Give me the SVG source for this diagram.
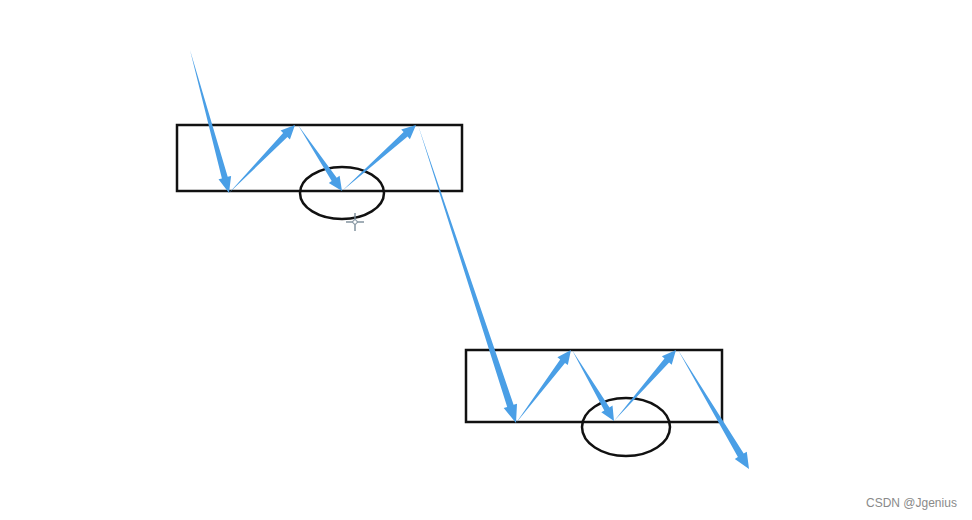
<svg xmlns="http://www.w3.org/2000/svg" width="972" height="520" viewBox="0 0 972 520">
  <style>
    .box { fill: none; stroke: #111; stroke-width: 2.5; }
    .ring { fill: none; stroke: #111; stroke-width: 2.5; }
    .arrow { fill: #4a9fe6; stroke: none; }
    .mark { font-family: "Liberation Sans", Arial, sans-serif; font-size: 12px; fill: #8a8a8a; }
    .cursor { stroke: #7a8c99; stroke-width: 1.4; fill: none; }
  </style>
  <rect width="972" height="520" fill="#ffffff"/>
  <g id="box-top">
    <rect class="box" x="177" y="125" width="285" height="66"/>
  </g>
  <g id="box-bottom">
    <rect class="box" x="466" y="350" width="256" height="72"/>
  </g>
  <g id="ring-top">
    <ellipse class="ring" cx="342" cy="193" rx="42" ry="26"/>
  </g>
  <g id="ring-bottom">
    <ellipse class="ring" cx="626" cy="427" rx="44" ry="29"/>
  </g>
  <g id="connectors">
    <polygon class="arrow" points="190,50 221.9,178.4 218.5,179.3 229,193 231.1,175.9 227.7,176.8"/>
    <polygon class="arrow" points="229,193 287.4,137.1 289.9,139.6 295,125 280.6,130.5 283.1,133.0"/>
    <polygon class="arrow" points="298,125 331.7,181.0 328.8,183.0 342,191 339.6,175.7 336.7,177.7"/>
    <polygon class="arrow" points="342,191 407.6,136.6 409.9,139.2 416,125 401.2,129.5 403.6,132.1"/>
    <polygon class="arrow" points="418,125 507.2,407.0 503.7,408.1 516,423 517.0,403.7 513.6,404.8"/>
    <polygon class="arrow" points="516,423 565.0,363.0 567.8,365.1 571,350 557.4,357.3 560.2,359.4"/>
    <polygon class="arrow" points="572,350 604.3,410.5 601.3,412.3 614,421 612.5,405.6 609.5,407.4"/>
    <polygon class="arrow" points="614,421 669.1,362.5 671.7,364.8 676,350 661.9,356.3 664.5,358.6"/>
    <polygon class="arrow" points="678,350 737.9,457.0 734.8,458.9 749,469 746.8,451.7 743.7,453.5"/>
  </g>
  <g id="cursor">
    <line class="cursor" x1="355" y1="213" x2="355" y2="231"/>
    <line class="cursor" x1="346" y1="222" x2="364" y2="222"/>
    <circle cx="355" cy="222" r="2.2" fill="#ffffff" stroke="#7a8c99" stroke-width="1"/>
  </g>
  <text class="mark" x="866" y="507">CSDN @Jgenius</text>
</svg>
